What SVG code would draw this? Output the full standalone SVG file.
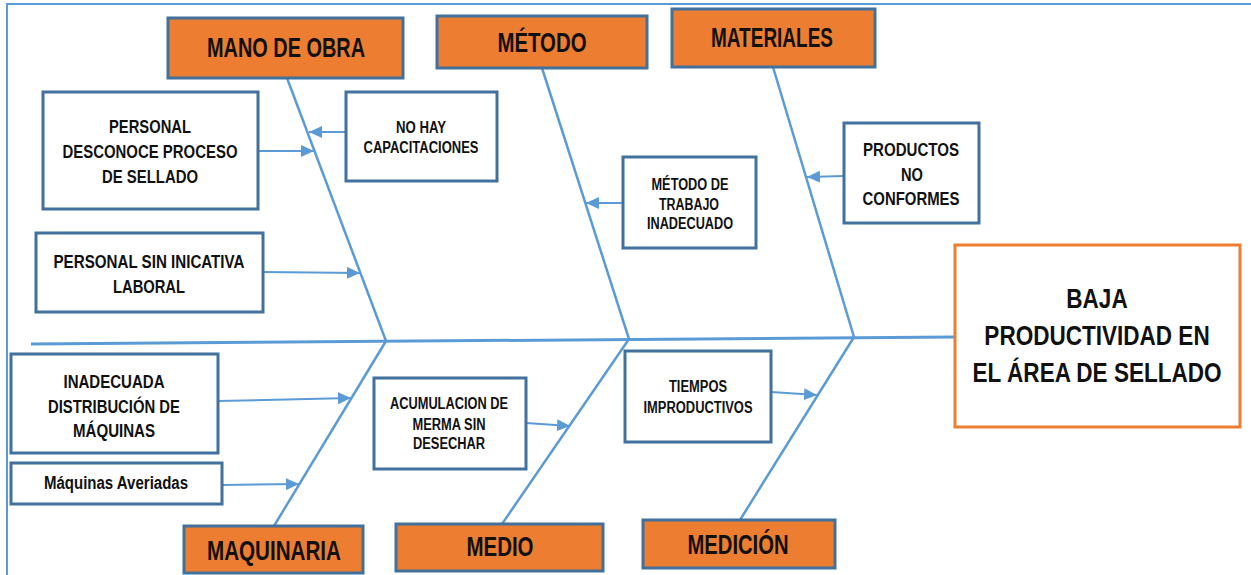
<svg xmlns="http://www.w3.org/2000/svg" width="1251" height="575" viewBox="0 0 1251 575">
<style>
.frame{fill:none;stroke:#5B9BD5;stroke-width:2}
.cat{fill:#ED7D31;stroke:#41719C;stroke-width:3}
.cause{fill:#FFFFFF;stroke:#41719C;stroke-width:3}
.effect{fill:#FFFFFF;stroke:#ED7D31;stroke-width:3}
.bone{stroke:#5B9BD5;stroke-width:2.5;fill:none;stroke-linecap:round}
.spine{stroke:#5B9BD5;stroke-width:3;fill:none}
.arr{stroke:#5B9BD5;stroke-width:2;fill:none;marker-end:url(#ah)}
text{font-family:"Liberation Sans",Arial,sans-serif;font-weight:bold;fill:#111111;text-anchor:middle}
.tc{font-size:28px}
.te{font-size:28px}
.tb{font-size:19px}
.ts{font-size:16px}
</style>
<defs>
<marker id="ah" markerUnits="userSpaceOnUse" markerWidth="13" markerHeight="12" refX="13" refY="6" orient="auto">
<path d="M0,0 L13,6 L0,12 z" fill="#5B9BD5"/>
</marker>
</defs>
<rect class="frame" x="7" y="4" width="1300" height="620"/>
<g id="connectors">
<line class="spine" x1="31" y1="344" x2="955" y2="337"/>
<line class="bone" x1="287" y1="78" x2="386" y2="341"/>
<line class="bone" x1="542" y1="68" x2="629" y2="339"/>
<line class="bone" x1="773" y1="67" x2="854" y2="337"/>
<line class="bone" x1="274" y1="526" x2="386" y2="341"/>
<line class="bone" x1="502" y1="524" x2="629" y2="339"/>
<line class="bone" x1="740" y1="520" x2="854" y2="337"/>
<line class="arr" x1="346" y1="132" x2="309" y2="132"/>
<line class="arr" x1="258" y1="151" x2="314" y2="151"/>
<line class="arr" x1="263" y1="272" x2="360" y2="273"/>
<line class="arr" x1="623" y1="203" x2="586" y2="203"/>
<line class="arr" x1="844" y1="176" x2="807" y2="177"/>
<line class="arr" x1="218" y1="401" x2="351" y2="398"/>
<line class="arr" x1="222" y1="485" x2="299" y2="484"/>
<line class="arr" x1="526" y1="423" x2="570" y2="426"/>
<line class="arr" x1="771" y1="392" x2="817" y2="395"/>
</g>
<g id="mano-de-obra">
<rect class="cat" x="168" y="18" width="235" height="60"/>
<text class="tc" x="286" y="57" textLength="158" lengthAdjust="spacingAndGlyphs">MANO DE OBRA</text>
</g>
<g id="metodo">
<rect class="cat" x="437" y="16" width="210" height="52"/>
<text class="tc" x="542" y="52" textLength="89" lengthAdjust="spacingAndGlyphs">MÉTODO</text>
</g>
<g id="materiales">
<rect class="cat" x="672" y="9" width="203" height="58"/>
<text class="tc" x="772" y="47" textLength="122" lengthAdjust="spacingAndGlyphs">MATERIALES</text>
</g>
<g id="maquinaria">
<rect class="cat" x="184" y="526" width="179" height="47"/>
<text class="tc" x="274" y="560" textLength="134" lengthAdjust="spacingAndGlyphs">MAQUINARIA</text>
</g>
<g id="medio">
<rect class="cat" x="396" y="524" width="207" height="47"/>
<text class="tc" x="500" y="556" textLength="67" lengthAdjust="spacingAndGlyphs">MEDIO</text>
</g>
<g id="medicion">
<rect class="cat" x="643" y="520" width="192" height="48"/>
<text class="tc" x="738" y="554" textLength="101" lengthAdjust="spacingAndGlyphs">MEDICIÓN</text>
</g>
<g id="personal-desconoce">
<rect class="cause" x="43" y="92" width="215" height="117"/>
<text class="tb" x="150" y="133" textLength="82" lengthAdjust="spacingAndGlyphs">PERSONAL</text>
<text class="tb" x="150" y="158" textLength="175" lengthAdjust="spacingAndGlyphs">DESCONOCE PROCESO</text>
<text class="tb" x="150" y="183" textLength="96" lengthAdjust="spacingAndGlyphs">DE SELLADO</text>
</g>
<g id="no-hay-capacitaciones">
<rect class="cause" x="346" y="92" width="151" height="89"/>
<text class="ts" x="421" y="133" textLength="50" lengthAdjust="spacingAndGlyphs">NO HAY</text>
<text class="ts" x="421" y="153" textLength="115" lengthAdjust="spacingAndGlyphs">CAPACITACIONES</text>
</g>
<g id="personal-sin-iniciativa">
<rect class="cause" x="36" y="233" width="227" height="79"/>
<text class="tb" x="149" y="268" textLength="191" lengthAdjust="spacingAndGlyphs">PERSONAL SIN INICATIVA</text>
<text class="tb" x="149" y="293" textLength="72" lengthAdjust="spacingAndGlyphs">LABORAL</text>
</g>
<g id="metodo-trabajo">
<rect class="cause" x="623" y="157" width="133" height="91"/>
<text class="ts" x="690" y="190" textLength="77" lengthAdjust="spacingAndGlyphs">MÉTODO DE</text>
<text class="ts" x="689" y="210" textLength="60" lengthAdjust="spacingAndGlyphs">TRABAJO</text>
<text class="ts" x="690" y="229" textLength="86" lengthAdjust="spacingAndGlyphs">INADECUADO</text>
</g>
<g id="productos-no-conformes">
<rect class="cause" x="844" y="123" width="135" height="100"/>
<text class="tb" x="911" y="156" textLength="96" lengthAdjust="spacingAndGlyphs">PRODUCTOS</text>
<text class="tb" x="912" y="181" textLength="22" lengthAdjust="spacingAndGlyphs">NO</text>
<text class="tb" x="911" y="205" textLength="97" lengthAdjust="spacingAndGlyphs">CONFORMES</text>
</g>
<g id="inadecuada-distribucion">
<rect class="cause" x="11" y="354" width="207" height="99"/>
<text class="tb" x="114" y="388" textLength="101" lengthAdjust="spacingAndGlyphs">INADECUADA</text>
<text class="tb" x="114" y="413" textLength="132" lengthAdjust="spacingAndGlyphs">DISTRIBUCIÓN DE</text>
<text class="tb" x="114" y="437" textLength="82" lengthAdjust="spacingAndGlyphs">MÁQUINAS</text>
</g>
<g id="maquinas-averiadas">
<rect class="cause" x="11" y="463" width="211" height="41"/>
<text x="116" y="489" font-size="18" textLength="144" lengthAdjust="spacingAndGlyphs">Máquinas Averiadas</text>
</g>
<g id="acumulacion-merma">
<rect class="cause" x="374" y="378" width="152" height="91"/>
<text class="ts" x="449" y="409" textLength="118" lengthAdjust="spacingAndGlyphs">ACUMULACION DE</text>
<text class="ts" x="449" y="430" textLength="73" lengthAdjust="spacingAndGlyphs">MERMA SIN</text>
<text class="ts" x="449" y="449" textLength="72" lengthAdjust="spacingAndGlyphs">DESECHAR</text>
</g>
<g id="tiempos-improductivos">
<rect class="cause" x="625" y="351" width="146" height="91"/>
<text class="ts" x="698" y="392" textLength="58" lengthAdjust="spacingAndGlyphs">TIEMPOS</text>
<text class="ts" x="698" y="413" textLength="109" lengthAdjust="spacingAndGlyphs">IMPRODUCTIVOS</text>
</g>
<g id="efecto">
<rect class="effect" x="955" y="245" width="285" height="182"/>
<g transform="translate(1097,0) scale(0.805,1)">
<text class="te" x="0" y="308">BAJA</text>
<text class="te" x="0" y="345">PRODUCTIVIDAD EN</text>
<text class="te" x="0" y="382">EL ÁREA DE SELLADO</text>
</g>
</g>
</svg>
